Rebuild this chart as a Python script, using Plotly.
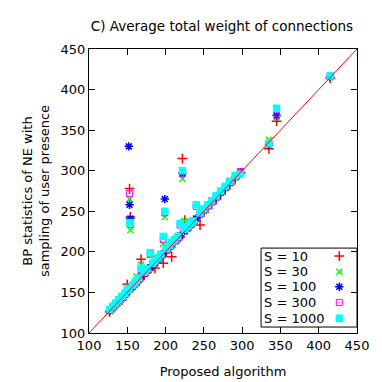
import plotly.graph_objects as go

# Proposed algorithm (x) and BP statistics for each sampling size S
proposed = [127, 131, 135, 139, 143, 147, 150, 152, 153, 154, 157, 160, 162, 165, 168,
            172, 176, 180, 183, 186, 190, 194, 197, 199, 201, 205, 208, 212, 216, 219,
            222, 225, 228, 232, 236, 240, 245, 250, 255, 260, 266, 272, 278, 284, 291,
            298, 335, 345, 415]
s10 = [126, 130, 134, 138, 141, 146, 160, 153, 278, 243, 156, 159, 162, 164, 191,
       171, 175, 179, 182, 180, 189, 193, 186, 200, 200, 204, 194, 211, 215, 218,
       315, 239, 227, 231, 235, 239, 233, 249, 254, 259, 265, 271, 277, 283, 290,
       297, 327, 361, 414]
s30 = [127, 131, 135, 139, 143, 147, 152, 154, 265, 227, 158, 160, 170, 166, 184,
       173, 177, 196, 184, 187, 191, 195, 210, 243, 202, 206, 209, 213, 217, 220,
       290, 238, 229, 233, 237, 241, 246, 251, 256, 261, 267, 273, 279, 285, 292,
       298, 338, 366, 415]
s100 = [127, 131, 136, 139, 143, 147, 151, 330, 258, 241, 157, 161, 163, 166, 170,
        173, 177, 181, 184, 187, 191, 195, 198, 265, 202, 206, 210, 213, 217, 220,
        297, 226, 229, 233, 237, 241, 246, 251, 256, 261, 267, 273, 279, 285, 292,
        298, 333, 368, 416]
s300 = [128, 132, 136, 140, 144, 148, 152, 154, 272, 234, 158, 161, 164, 167, 178,
        174, 178, 197, 185, 188, 192, 196, 215, 248, 203, 207, 211, 214, 218, 233,
        296, 227, 230, 234, 238, 256, 247, 252, 257, 262, 268, 274, 280, 286, 293,
        299, 333, 371, 416]
s1000 = [129, 133, 137, 141, 145, 149, 153, 155, 236, 236, 159, 162, 165, 168, 180,
         175, 179, 199, 186, 189, 193, 197, 219, 250, 204, 208, 212, 215, 219, 235,
         300, 228, 231, 235, 238, 258, 248, 253, 258, 263, 269, 275, 281, 287, 294,
         296, 334, 377, 417]

series = [
    ("S = 10", s10, dict(symbol="cross-thin", size=7, color="#ff0000",
                         line=dict(color="#ff0000", width=1.5))),
    ("S = 30", s30, dict(symbol="x-thin", size=6, color="#00ff00",
                         line=dict(color="#00ff00", width=1.5))),
    ("S = 100", s100, dict(symbol="asterisk", size=7, color="#0000ff",
                           line=dict(color="#0000ff", width=1.5))),
    ("S = 300", s300, dict(symbol="square-open-dot", size=6, color="#ff00ff",
                           line=dict(color="#ff00ff", width=1))),
    ("S = 1000", s1000, dict(symbol="square", size=7.5, color="#00ffff",
                             line=dict(width=0))),
]

fig = go.Figure()
for name, ys, marker in series:
    fig.add_trace(go.Scatter(x=proposed, y=ys, mode="markers", name=name,
                             marker=marker, showlegend=False))

# y = x reference line
diag = [100, 450]
fig.add_trace(go.Scatter(x=diag, y=diag, mode="lines", showlegend=False,
                         line=dict(color="#ff0000", width=1)))

# gnuplot-style key: label on the left, sample on the right, boxed
key_rows = [0.271, 0.216, 0.163, 0.107, 0.052]
for (name, _, marker), row in zip(series, key_rows):
    fig.add_trace(go.Scatter(x=[0.934], y=[row], mode="markers", marker=marker,
                             xaxis="x2", yaxis="y2", showlegend=False,
                             hoverinfo="skip"))
    fig.add_annotation(text=name, xref="paper", yref="paper", x=0.644, y=row,
                       xanchor="left", yanchor="middle", showarrow=False,
                       font=dict(size=13, color="black"))
fig.add_shape(type="rect", xref="paper", yref="paper", x0=0.642, x1=1.0,
              y0=0.021, y1=0.299, line=dict(color="black", width=1))

axis_style = dict(
    showline=True, linecolor="black", linewidth=1, mirror="allticks",
    ticks="inside", ticklen=6, tickcolor="black", showgrid=False,
    zeroline=False, tickfont=dict(size=13, color="black"),
    range=[100, 450], dtick=50, automargin=False,
)
hidden = dict(overlaying="x", range=[0, 1], visible=False, fixedrange=True)

fig.update_layout(
    width=382, height=382,
    margin=dict(l=89, r=25, t=49, b=49),
    paper_bgcolor="white", plot_bgcolor="white",
    font=dict(family="DejaVu Sans", size=13, color="black"),
    title=dict(text="C) Average total weight of connections", x=0.581,
               xanchor="center", y=0.932, yanchor="middle",
               font=dict(size=13.5, color="black")),
    xaxis=dict(axis_style, title=dict(text="Proposed algorithm", standoff=15,
                                      font=dict(size=13))),
    yaxis=dict(axis_style, title=dict(
        text="BP statistics of NE with<br>sampling of user presence",
        standoff=8, font=dict(size=13))),
    xaxis2=hidden,
    yaxis2=dict(hidden, overlaying="y"),
    showlegend=False,
)

fig.write_html("out.html", config={"displayModeBar": False},
               post_script="document.body.style.margin='0';")
